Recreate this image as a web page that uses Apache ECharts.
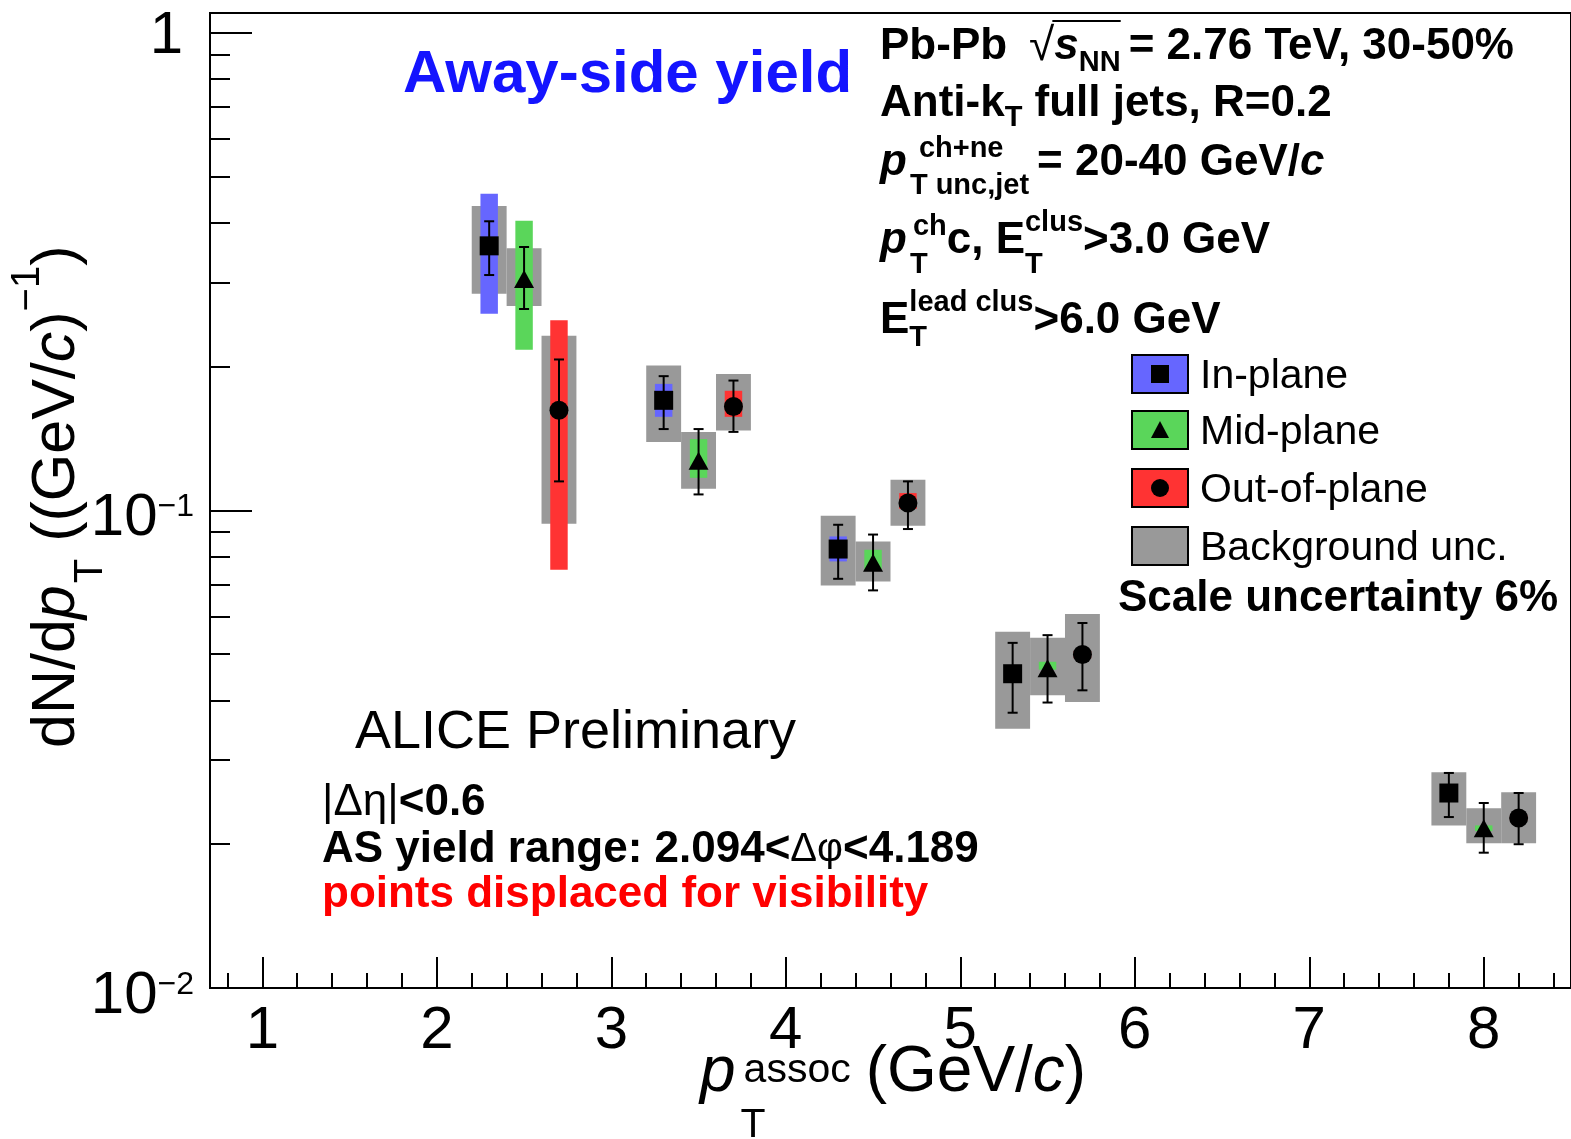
<!DOCTYPE html>
<html>
<head>
<meta charset="utf-8">
<script src="https://cdn.jsdelivr.net/npm/echarts@6/dist/echarts.min.js"></script>
<style>
  html, body { margin: 0; padding: 0; background: #fff; }
  #chart { width: 1571px; height: 1139px; }
</style>
</head>
<body>
<div id="chart"></div>
<script>
// ---------------------------------------------------------------------------
// Away-side associated yield vs p_T^assoc, Pb-Pb 30-50%, three event-plane bins
// ---------------------------------------------------------------------------

// Associated-particle pT bins (GeV/c); each plane class is shifted sideways
const ptBins = [2.5, 3.5, 4.5, 5.5, 8.0];
const planeShift = [-0.2, 0.0, 0.2];
const planeNames = ['In-plane', 'Mid-plane', 'Out-of-plane'];

// In-plane
const inYield  = [0.358, 0.170, 0.0830, 0.0455, 0.0256];
const inStatLo = [0.311, 0.148, 0.0719, 0.0377, 0.0228];
const inStatHi = [0.403, 0.191, 0.0933, 0.0528, 0.0282];
const inBkgLo  = [0.284, 0.139, 0.0696, 0.0349, 0.0219];
const inBkgHi  = [0.434, 0.201, 0.0975, 0.0557, 0.0283];
const inSysLo  = [0.258, 0.157, 0.0782, 0.0450, 0.0253];
const inSysHi  = [0.460, 0.184, 0.0882, 0.0460, 0.0259];

// Mid-plane
const midYield  = [0.305, 0.127, 0.0777, 0.0467, 0.0216];
const midStatLo = [0.264, 0.108, 0.0680, 0.0396, 0.0192];
const midStatHi = [0.356, 0.148, 0.0890, 0.0548, 0.0244];
const midBkgLo  = [0.268, 0.111, 0.0710, 0.0410, 0.0201];
const midBkgHi  = [0.354, 0.146, 0.0861, 0.0541, 0.0238];
const midSysLo  = [0.217, 0.117, 0.0751, 0.0464, 0.0213];
const midSysHi  = [0.404, 0.141, 0.0827, 0.0482, 0.0219];

// Out-of-plane
const outYield  = [0.162, 0.165, 0.1036, 0.0499, 0.0227];
const outStatLo = [0.115, 0.146, 0.0914, 0.0420, 0.0200];
const outStatHi = [0.207, 0.187, 0.1150, 0.0581, 0.0256];
const outBkgLo  = [0.0938, 0.147, 0.0929, 0.0397, 0.0201];
const outBkgHi  = [0.232, 0.193, 0.1159, 0.0607, 0.0257];
const outSysLo  = [0.0751, 0.157, 0.1007, 0.0490, 0.0224];
const outSysHi  = [0.250, 0.178, 0.1087, 0.0508, 0.0230];

// Axis ticks
const xTicks      = [1, 2, 3, 4, 5, 6, 7, 8];
const xMinorTicks = [0.8, 1.2, 1.4, 1.6, 1.8, 2.2, 2.4, 2.6, 2.8, 3.2, 3.4, 3.6, 3.8,
                     4.2, 4.4, 4.6, 4.8, 5.2, 5.4, 5.6, 5.8, 6.2, 6.4, 6.6, 6.8,
                     7.2, 7.4, 7.6, 7.8, 8.2, 8.4];
const yTicks      = [0.01, 0.1, 1];
const yTickLabels = ['{m|10}{sup|\u22122}', '{m|10}{sup|\u22121}', '{one|1}'];
const yMinorTicks = [0.02, 0.03, 0.04, 0.05, 0.06, 0.07, 0.08, 0.09,
                     0.2, 0.3, 0.4, 0.5, 0.6, 0.7, 0.8, 0.9];

// ---------------------------------------------------------------------------
const FF = '"Liberation Sans", Arial, Helvetica, sans-serif';
const colSys = ['#6666ff', '#5ad65a', '#ff3333'];
const colBkg = '#999999';
const symbols = ['rect', 'triangle', 'circle'];

const planes = [
  [inYield, inStatLo, inStatHi, inBkgLo, inBkgHi, inSysLo, inSysHi],
  [midYield, midStatLo, midStatHi, midBkgLo, midBkgHi, midSysLo, midSysHi],
  [outYield, outStatLo, outStatHi, outBkgLo, outBkgHi, outSysLo, outSysHi]
];

// rows: [x, y, statLo, statHi, bkgLo, bkgHi, sysLo, sysHi]
function rowsFor(p) {
  const a = planes[p];
  return ptBins.map((pt, i) => [pt + planeShift[p], a[0][i], a[1][i], a[2][i], a[3][i], a[4][i], a[5][i], a[6][i]]);
}

function boxSeries(p, loDim, hiDim, halfWidth, fill, z) {
  return {
    type: 'custom', z: z, silent: true, clip: false,
    data: rowsFor(p),
    encode: { x: 0, y: 1 },
    renderItem: function (params, api) {
      const x = api.value(0);
      const a = api.coord([x - halfWidth, api.value(hiDim)]);
      const b = api.coord([x + halfWidth, api.value(loDim)]);
      return { type: 'rect', shape: { x: a[0], y: a[1], width: b[0] - a[0], height: b[1] - a[1] },
               style: { fill: fill } };
    }
  };
}

function errSeries(p) {
  return {
    type: 'custom', z: 4, silent: true, clip: false,
    data: rowsFor(p),
    encode: { x: 0, y: 1 },
    renderItem: function (params, api) {
      const x = api.value(0);
      const top = api.coord([x, api.value(3)]);
      const bot = api.coord([x, api.value(2)]);
      const st = { stroke: '#000', lineWidth: 2 };
      const cap = 5;
      return { type: 'group', children: [
        { type: 'line', shape: { x1: top[0], y1: top[1], x2: bot[0], y2: bot[1] }, style: st },
        { type: 'line', shape: { x1: top[0] - cap, y1: top[1], x2: top[0] + cap, y2: top[1] }, style: st },
        { type: 'line', shape: { x1: bot[0] - cap, y1: bot[1], x2: bot[0] + cap, y2: bot[1] }, style: st }
      ] };
    }
  };
}

function markerSeries(p) {
  return {
    type: 'scatter', z: 5, silent: true, name: planeNames[p],
    symbol: symbols[p], symbolSize: p === 1 ? [20, 18] : 19,
    itemStyle: { color: '#000', opacity: 1 },
    data: rowsFor(p).map(r => [r[0], r[1]])
  };
}

const series = [];
for (let p = 0; p < 3; p++) series.push(boxSeries(p, 4, 5, 0.1, colBkg, 1));
for (let p = 0; p < 3; p++) series.push(boxSeries(p, 6, 7, 0.05, colSys[p], 2));
for (let p = 0; p < 3; p++) series.push(errSeries(p));
for (let p = 0; p < 3; p++) series.push(markerSeries(p));

// ---------------------------------------------------------------------------
// Text helpers: a line is a list of runs, each measured so the next one follows
const mctx = document.createElement('canvas').getContext('2d');
function fontOf(s) {
  return (s.i ? 'italic ' : '') + (s.b ? 'bold ' : '') + s.size + 'px ' + FF;
}
function buildLine(x0, yc, runs, base, marks) {
  const els = [];
  let x = x0;
  for (const r of runs) {
    if (r.gap !== undefined) { x += r.gap; continue; }
    const segs = r.stack ? r.stack : [r];
    let adv = 0;
    const startX = x;
    for (const s0 of segs) {
      const s = Object.assign({}, base, s0);
      const font = fontOf(s);
      mctx.font = font;
      const w = mctx.measureText(s.t).width;
      els.push({
        type: 'text', silent: true,
        x: x + (s.dx || 0), y: yc + (s.dy || 0),
        style: { text: s.t, font: font, fill: s.color || '#000',
                 align: 'left', verticalAlign: 'middle',
                 textAlign: 'left', textVerticalAlign: 'middle' }
      });
      adv = Math.max(adv, w + (s.dx || 0));
    }
    x += adv;
    if (marks && r.id) marks[r.id] = { x0: startX, x1: x };
  }
  return els;
}

const graphics = [];
const TEXT_DY = 3; // em-middle sits slightly above the cap centre
function addLine(x0, yc, runs, base) {
  const marks = {};
  buildLine(x0, yc + TEXT_DY, runs, base, marks).forEach(e => graphics.push(e));
  return marks;
}

const bold44 = { size: 44, b: true, color: '#000' };

// Title inside the frame
addLine(403, 72, [{ t: 'Away-side yield' }], { size: 60, b: true, color: '#1414ff' });

// Collision system and jet selection
const m1 = addLine(880, 44, [
  { t: 'Pb-Pb' }, { gap: 22 },
  { t: '\u221A', b: false, size: 46, id: 'root' },
  { t: 's', i: true, id: 's' },
  { t: 'NN', size: 29, dy: 16, id: 'nn' }, { gap: 8 },
  { t: '= 2.76 TeV, 30-50%' }
], bold44);
graphics.push({ type: 'line', silent: true,
  shape: { x1: m1.root.x1 - 2, y1: 21, x2: m1.nn.x1, y2: 21 },
  style: { stroke: '#000', lineWidth: 2 } });

addLine(880, 101, [
  { t: 'Anti-k' }, { t: 'T', size: 29, dy: 14 }, { t: ' full jets, R=0.2' }
], bold44);

addLine(880, 160, [
  { t: 'p', i: true },
  { stack: [{ t: 'ch+ne', size: 29, dy: -14, dx: 12 }, { t: 'T unc,jet', size: 29, dy: 23, dx: 3 }] },
  { gap: 8 }, { t: '= 20-40 GeV/' }, { t: 'c', i: true }
], bold44);

addLine(880, 238, [
  { t: 'p', i: true },
  { stack: [{ t: 'ch', size: 29, dy: -14, dx: 6 }, { t: 'T', size: 29, dy: 24, dx: 3 }] },
  { t: 'c, E' },
  { stack: [{ t: 'clus', size: 29, dy: -18 }, { t: 'T', size: 29, dy: 24 }] },
  { t: '>3.0 GeV' }
], bold44);

addLine(880, 318, [
  { t: 'E' },
  { stack: [{ t: 'lead clus', size: 29, dy: -18 }, { t: 'T', size: 29, dy: 17 }] },
  { t: '>6.0 GeV' }
], bold44);

// Legend
const legendNames = planeNames.concat(['Background unc.']);
const legendFill = colSys.concat([colBkg]);
const legendY = [374, 430, 488, 546];
legendNames.forEach((name, k) => {
  graphics.push({ type: 'rect', silent: true,
    shape: { x: 1132, y: legendY[k] - 19, width: 56, height: 38 },
    style: { fill: legendFill[k], stroke: '#000', lineWidth: 2 } });
  const cx = 1160, cy = legendY[k];
  if (k === 0) graphics.push({ type: 'rect', silent: true, shape: { x: cx - 9, y: cy - 9, width: 18, height: 18 }, style: { fill: '#000' } });
  if (k === 1) graphics.push({ type: 'polygon', silent: true, shape: { points: [[cx, cy - 9], [cx + 9, cy + 8], [cx - 9, cy + 8]] }, style: { fill: '#000' } });
  if (k === 2) graphics.push({ type: 'circle', silent: true, shape: { cx: cx, cy: cy, r: 9 }, style: { fill: '#000' } });
  addLine(1200, legendY[k], [{ t: name }], { size: 41, b: false, color: '#000' });
});
addLine(1118, 596, [{ t: 'Scale uncertainty 6%' }], bold44);

// Lower-left notes
addLine(355, 730, [{ t: 'ALICE Preliminary' }], { size: 54, b: false, color: '#000' });
addLine(322, 800, [{ t: '|\u0394\u03B7|', b: false }, { t: '<0.6' }], bold44);
addLine(322, 847, [{ t: 'AS yield range: 2.094<' }, { t: '\u0394\u03C6', b: false, size: 40 }, { t: '<4.189' }], bold44);
addLine(322, 892, [{ t: 'points displaced for visibility' }], { size: 44, b: true, color: '#ff0000' });

// Axis titles
addLine(700, 1070, [
  { t: 'p', i: true },
  { stack: [{ t: 'assoc', size: 41, dy: -2, dx: 8 }, { t: 'T', size: 41, dy: 53, dx: 5 }] },
  { gap: 15 }, { t: '(GeV/' }, { t: 'c', i: true }, { t: ')' }
], { size: 64, b: false, color: '#000' });

const yTitle = buildLine(0, 0, [
  { t: 'dN/d' }, { t: 'p', i: true },
  { t: 'T', size: 40, dy: 34, dx: 2 },
  { t: ' ((GeV/' }, { t: 'c', i: true }, { t: ')' },
  { t: '\u22121', size: 40, dy: -29 }, { t: ')' }
], { size: 61, b: false, color: '#000' });
graphics.push({ type: 'group', x: 57, y: 748, rotation: Math.PI / 2, children: yTitle });

// ---------------------------------------------------------------------------
const chart = echarts.init(document.getElementById('chart'), null, { renderer: 'canvas' });

const tickStyle = { color: '#000', width: 2 };
chart.setOption({
  animation: false,
  backgroundColor: '#fff',
  grid: { left: 210, top: 13, right: -2, bottom: 151, show: true,
          borderColor: '#000', borderWidth: 2, backgroundColor: 'transparent' },
  xAxis: [
    { type: 'value', min: 0.7, max: 8.5, position: 'bottom',
      axisLine: { show: false, onZero: false }, splitLine: { show: false },
      axisTick: { inside: true, length: 31, customValues: xTicks, lineStyle: tickStyle },
      axisLabel: { customValues: xTicks, margin: 13, fontSize: 60, color: '#000', fontFamily: FF } },
    { type: 'value', min: 0.7, max: 8.5, position: 'bottom',
      axisLine: { show: false, onZero: false }, splitLine: { show: false },
      axisTick: { inside: true, length: 15, customValues: xMinorTicks, lineStyle: tickStyle },
      axisLabel: { show: false } }
  ],
  yAxis: [
    { type: 'log', logBase: 10, min: 0.01, max: 1.1, position: 'left',
      axisLine: { show: false, onZero: false }, splitLine: { show: false },
      axisTick: { inside: true, length: 42, customValues: yTicks, lineStyle: tickStyle },
      axisLabel: {
        customValues: yTicks, margin: 16, color: '#000', fontFamily: FF, fontSize: 60,
        formatter: function (v) {
          const k = yTicks.findIndex(t => Math.abs(Math.log10(t) - Math.log10(v)) < 1e-6);
          return k >= 0 ? yTickLabels[k] : '';
        },
        rich: {
          m:   { fontSize: 60, fontFamily: FF, color: '#000', verticalAlign: 'top', lineHeight: 60, padding: [8, 0, 0, 0] },
          sup: { fontSize: 32, fontFamily: FF, color: '#000', verticalAlign: 'top', lineHeight: 32, padding: [11, 0, 0, 0] },
          one: { fontSize: 60, fontFamily: FF, color: '#000', verticalAlign: 'top', lineHeight: 60, padding: [4, 11, 0, 0] }
        }
      } },
    { type: 'log', logBase: 10, min: 0.01, max: 1.1, position: 'left',
      axisLine: { show: false, onZero: false }, splitLine: { show: false },
      axisTick: { inside: true, length: 20, customValues: yMinorTicks, lineStyle: tickStyle },
      axisLabel: { show: false } }
  ],
  series: series,
  graphic: graphics
});
</script>
</body>
</html>
